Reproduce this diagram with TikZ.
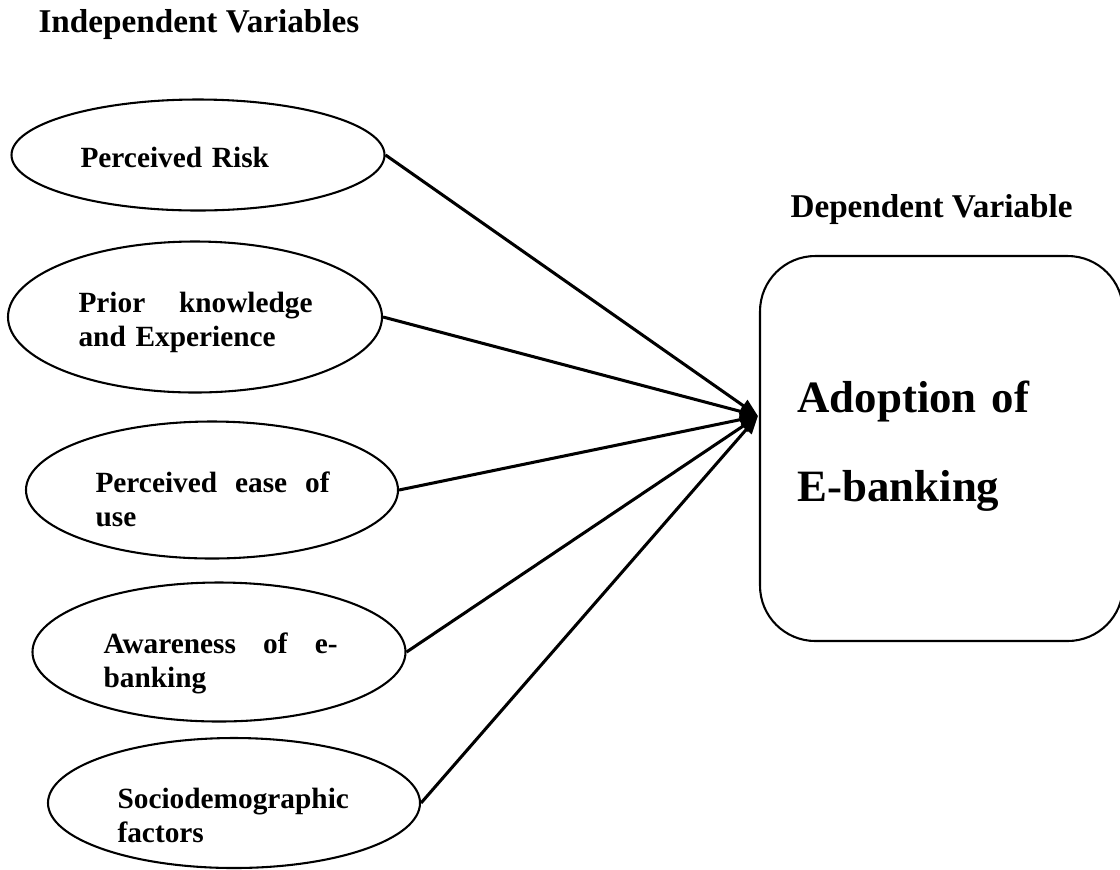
\documentclass[tikz,border=0pt]{standalone}
\usepackage{fontspec}
\setmainfont{Liberation Serif}
\usetikzlibrary{shapes.geometric,arrows.meta}
\newcommand{\px}{0.3614pt}
\newcommand{\fullline}[1]{\hbox to 84.6pt{#1}}
\tikzset{
  var/.style={draw,ellipse,line width=0.75pt,inner sep=0pt},
  vartext/.style={anchor=base west,inner sep=0pt,text width=84.6pt,align=left,font=\bfseries\fontsize{10.6}{12.6}\selectfont},
  head/.style={anchor=base west,inner sep=0pt,font=\bfseries\fontsize{12}{14}\selectfont},
  link/.style={line width=1.1pt,-{Triangle[length=6.5pt,width=5pt]}},
}
\begin{document}
\begin{tikzpicture}[x=\px,y=-\px]
        \useasboundingbox (0,0) rectangle (1120,869);
        %% headings
        \node[head] (indep) at (38,32) {Independent Variables};
        \node[head] (dep) at (790,217) {Dependent Variable};
        %% independent variables
        \node[var,minimum width=373*\px,minimum height=111*\px] (risk) at (198,155) {};
        \node[vartext] (risktext) at (80,167) {Perceived Risk};
        \node[var,minimum width=374*\px,minimum height=151*\px] (prior) at (195,317) {};
        \node[vartext] (priortext) at (78,312) {\fullline{Prior\hfill knowledge}\\and Experience};
        \node[var,minimum width=372*\px,minimum height=137*\px] (ease) at (212,490) {};
        \node[vartext] (easetext) at (95,492) {\fullline{Perceived\hfill ease\hfill of}\\use};
        \node[var,minimum width=373*\px,minimum height=139*\px] (aware) at (219,652) {};
        \node[vartext] (awaretext) at (103,653) {\fullline{Awareness\hfill of\hfill e-}\\banking};
        \node[var,minimum width=372*\px,minimum height=130*\px] (socio) at (234,803) {};
        \node[vartext] (sociotext) at (117,808) {Sociodemographic\\factors};
        %% dependent variable
        \node[draw,line width=0.75pt,rounded corners=20pt,minimum width=363*\px,minimum height=385*\px] (adopt) at (941.5,448.5) {};
        \node[anchor=base west,inner sep=0pt,text width=110pt,align=left,font=\bfseries\fontsize{16.2}{32.5}\selectfont] (adopttext) at (797,412) {Adoption of\\E-banking};
        \coordinate (hub) at (758,416);
        \foreach \v in {risk,prior,ease,aware,socio}
            \draw[link] (\v.east) -- (hub);
    \end{tikzpicture}
\end{document}
